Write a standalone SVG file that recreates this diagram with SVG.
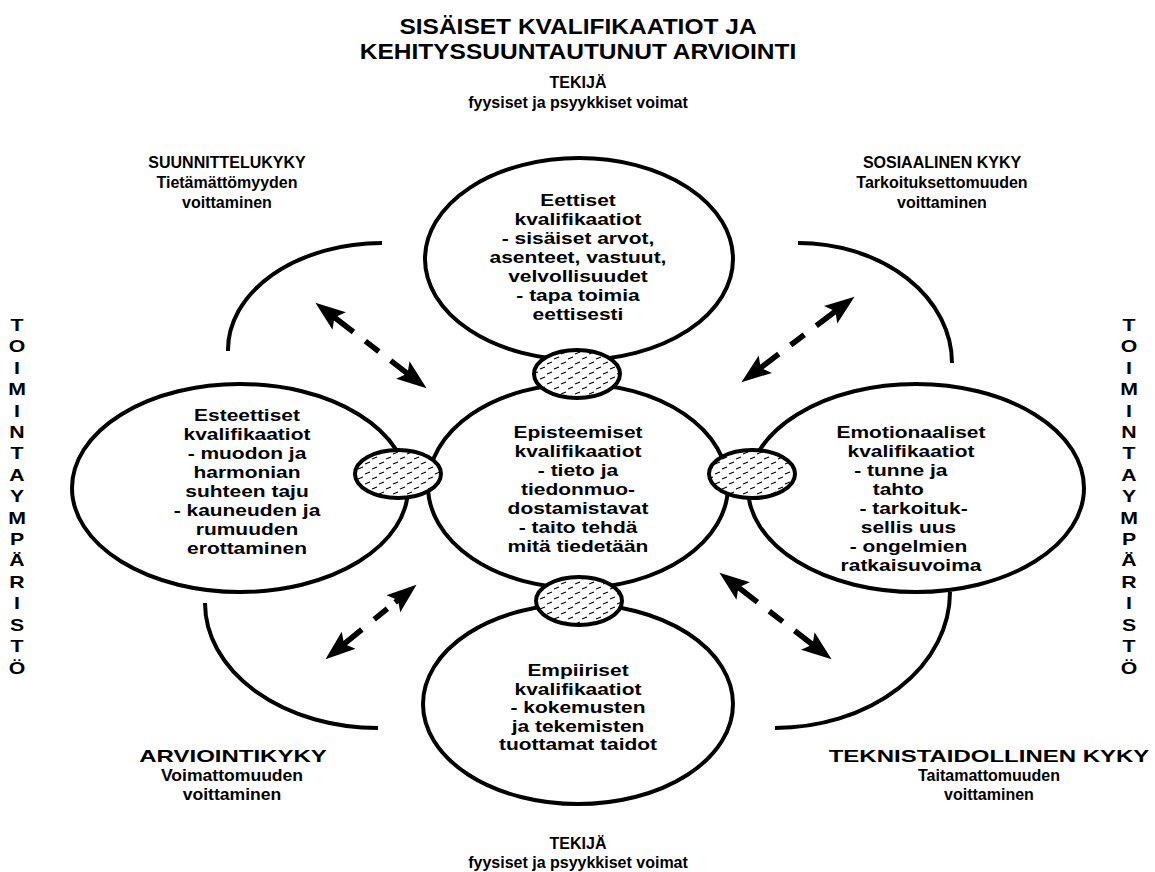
<svg xmlns="http://www.w3.org/2000/svg" width="1155" height="872" viewBox="0 0 1155 872">
<style>
text{font-family:"Liberation Sans",Arial,Helvetica,sans-serif;font-weight:bold;fill:#000;text-anchor:middle}
.t{font-size:16px}
.e{font-size:16.5px}
.h{font-size:22.5px}
.s{font-size:17px}
.big{fill:none;stroke:#000;stroke-width:4}
.arc{fill:none;stroke:#000;stroke-width:4}
.sm{fill:url(#hatch);stroke:#000;stroke-width:4}
.arr{fill:none;stroke:#000;stroke-width:5.5;marker-start:url(#ah);marker-end:url(#ah)}
</style>
<defs>
<pattern id="hatch" patternUnits="userSpaceOnUse" width="14" height="10">
<rect width="14" height="10" fill="#fff"/>
<path d="M1,4 L6,2 M8,9 L13,7" stroke="#000" stroke-width="1.1"/>
</pattern>
<marker id="ah" markerUnits="userSpaceOnUse" markerWidth="32" markerHeight="26" viewBox="0 0 32 26" refX="16" refY="13" orient="auto-start-reverse">
<path d="M0,2 L30,13 L0,24 L6,13 Z" fill="#000"/>
</marker>
</defs>
<rect width="1155" height="872" fill="#fff"/>

<g id="title">
<text class="h" transform="matrix(1.09,0,0,1,578,34)">SISÄISET KVALIFIKAATIOT JA</text>
<text class="h" transform="matrix(1.09,0,0,1,578,59)">KEHITYSSUUNTAUTUNUT ARVIOINTI</text>
</g>

<g id="tekija-top">
<text class="t" x="578" y="88">TEKIJÄ</text>
<text class="t" x="578" y="108">fyysiset ja psyykkiset voimat</text>
</g>
<g id="tekija-bottom">
<text class="t" x="578" y="849">TEKIJÄ</text>
<text class="t" x="578" y="868">fyysiset ja psyykkiset voimat</text>
</g>

<g id="suunnittelukyky">
<text class="t" x="227" y="168">SUUNNITTELUKYKY</text>
<text class="t" x="227" y="188">Tietämättömyyden</text>
<text class="t" x="227" y="208">voittaminen</text>
</g>
<g id="sosiaalinen">
<text class="t" x="942" y="168">SOSIAALINEN KYKY</text>
<text class="t" x="942" y="188">Tarkoituksettomuuden</text>
<text class="t" x="942" y="208">voittaminen</text>
</g>
<g id="arviointikyky">
<text class="t" transform="matrix(1.5,0,0,1,233,762)">ARVIOINTIKYKY</text>
<text class="t" transform="matrix(1.1,0,0,1,232,781)">Voimattomuuden</text>
<text class="t" transform="matrix(1.1,0,0,1,232,800)">voittaminen</text>
</g>
<g id="teknistaidollinen">
<text class="t" transform="matrix(1.5,0,0,1,989,762)">TEKNISTAIDOLLINEN KYKY</text>
<text class="t" x="989" y="781">Taitamattomuuden</text>
<text class="t" x="989" y="800">voittaminen</text>
</g>

<g id="toimintaymparisto-left" transform="matrix(1.25,0,0,1,17,0)">
<text class="s" x="0" y="331">T</text>
<text class="s" x="0" y="352">O</text>
<text class="s" x="0" y="374">I</text>
<text class="s" x="0" y="395">M</text>
<text class="s" x="0" y="417">I</text>
<text class="s" x="0" y="438">N</text>
<text class="s" x="0" y="459">T</text>
<text class="s" x="0" y="481">A</text>
<text class="s" x="0" y="502">Y</text>
<text class="s" x="0" y="524">M</text>
<text class="s" x="0" y="545">P</text>
<text class="s" x="0" y="566">Ä</text>
<text class="s" x="0" y="588">R</text>
<text class="s" x="0" y="609">I</text>
<text class="s" x="0" y="631">S</text>
<text class="s" x="0" y="652">T</text>
<text class="s" x="0" y="674">Ö</text>
</g>
<g id="toimintaymparisto-right" transform="matrix(1.25,0,0,1,1129,0)">
<text class="s" x="0" y="331">T</text>
<text class="s" x="0" y="352">O</text>
<text class="s" x="0" y="374">I</text>
<text class="s" x="0" y="395">M</text>
<text class="s" x="0" y="417">I</text>
<text class="s" x="0" y="438">N</text>
<text class="s" x="0" y="459">T</text>
<text class="s" x="0" y="481">A</text>
<text class="s" x="0" y="502">Y</text>
<text class="s" x="0" y="524">M</text>
<text class="s" x="0" y="545">P</text>
<text class="s" x="0" y="566">Ä</text>
<text class="s" x="0" y="588">R</text>
<text class="s" x="0" y="609">I</text>
<text class="s" x="0" y="631">S</text>
<text class="s" x="0" y="652">T</text>
<text class="s" x="0" y="674">Ö</text>
</g>

<g id="arcs">
<path class="arc" d="M382,243 A154,107 0 0 0 228,351"/>
<path class="arc" d="M798,243 A154,120 0 0 1 952,363"/>
<path class="arc" d="M205,603 A173,125 0 0 0 378,728"/>
<path class="arc" d="M950,592 A175,136 0 0 1 775,728"/>
</g>

<g id="eettiset">
<ellipse class="big" cx="579" cy="259" rx="154" ry="101"/>
<g transform="matrix(1.27,0,0,1,578,0)">
<text class="e" x="0" y="206">Eettiset</text>
<text class="e" x="0" y="225">kvalifikaatiot</text>
<text class="e" x="0" y="244">- sisäiset arvot,</text>
<text class="e" x="0" y="263">asenteet, vastuut,</text>
<text class="e" x="0" y="282">velvollisuudet</text>
<text class="e" x="0" y="301">- tapa toimia</text>
<text class="e" x="0" y="320">eettisesti</text>
</g>
</g>

<g id="episteemiset">
<ellipse class="big" cx="578" cy="486" rx="150" ry="102"/>
<g transform="matrix(1.27,0,0,1,578,0)">
<text class="e" x="0" y="438">Episteemiset</text>
<text class="e" x="0" y="457">kvalifikaatiot</text>
<text class="e" x="0" y="476">- tieto ja</text>
<text class="e" x="0" y="495">tiedonmuo-</text>
<text class="e" x="0" y="514">dostamistavat</text>
<text class="e" x="0" y="533">- taito tehdä</text>
<text class="e" x="0" y="552">mitä tiedetään</text>
</g>
</g>

<g id="esteettiset">
<ellipse class="big" cx="240" cy="488" rx="168" ry="104"/>
<g transform="matrix(1.27,0,0,1,247,0)">
<text class="e" x="0" y="421">Esteettiset</text>
<text class="e" x="0" y="440">kvalifikaatiot</text>
<text class="e" x="0" y="459">- muodon ja</text>
<text class="e" x="0" y="478">harmonian</text>
<text class="e" x="0" y="497">suhteen taju</text>
<text class="e" x="0" y="516">- kauneuden ja</text>
<text class="e" x="0" y="535">rumuuden</text>
<text class="e" x="0" y="554">erottaminen</text>
</g>
</g>

<g id="emotionaaliset">
<ellipse class="big" cx="916" cy="488" rx="168" ry="104"/>
<g transform="matrix(1.27,0,0,1,911,0)">
<text class="e" x="0" y="438">Emotionaaliset</text>
<text class="e" x="0" y="457">kvalifikaatiot</text>
<text class="e" x="-8" y="476">- tunne ja</text>
<text class="e" x="-10" y="495">tahto</text>
<text class="e" x="2" y="514">- tarkoituk-</text>
<text class="e" x="-2" y="533">sellis uus</text>
<text class="e" x="-2" y="552">- ongelmien</text>
<text class="e" x="0" y="571">ratkaisuvoima</text>
</g>
</g>

<g id="empiiriset">
<ellipse class="big" cx="578" cy="704" rx="155" ry="100"/>
<g transform="matrix(1.27,0,0,1,578,0)">
<text class="e" x="0" y="676">Empiiriset</text>
<text class="e" x="0" y="695">kvalifikaatiot</text>
<text class="e" x="0" y="713">- kokemusten</text>
<text class="e" x="0" y="732">ja tekemisten</text>
<text class="e" x="0" y="750">tuottamat taidot</text>
</g>
</g>

<g id="links">
<ellipse id="link-top" class="sm" cx="577" cy="374" rx="43" ry="24"/>
<ellipse id="link-left" class="sm" cx="398" cy="474" rx="43" ry="24"/>
<ellipse id="link-right" class="sm" cx="752" cy="474" rx="43" ry="24"/>
<ellipse id="link-bottom" class="sm" cx="579" cy="601" rx="43" ry="24"/>
</g>

<g id="connectors">
<path class="arr" d="M326.5,311.3 L415.5,379.7" stroke-dasharray="34 15 17 15 100"/>
<path class="arr" d="M843.4,305.2 L752.6,373.8" stroke-dasharray="34 15 17 15 100"/>
<path class="arr" d="M336.3,650.4 L405.7,593.6" stroke-dasharray="33 16 17 10 100"/>
<path class="arr" d="M730.5,581.3 L820.5,650.7" stroke-dasharray="34 15 17 15 100"/>
</g>
</svg>
